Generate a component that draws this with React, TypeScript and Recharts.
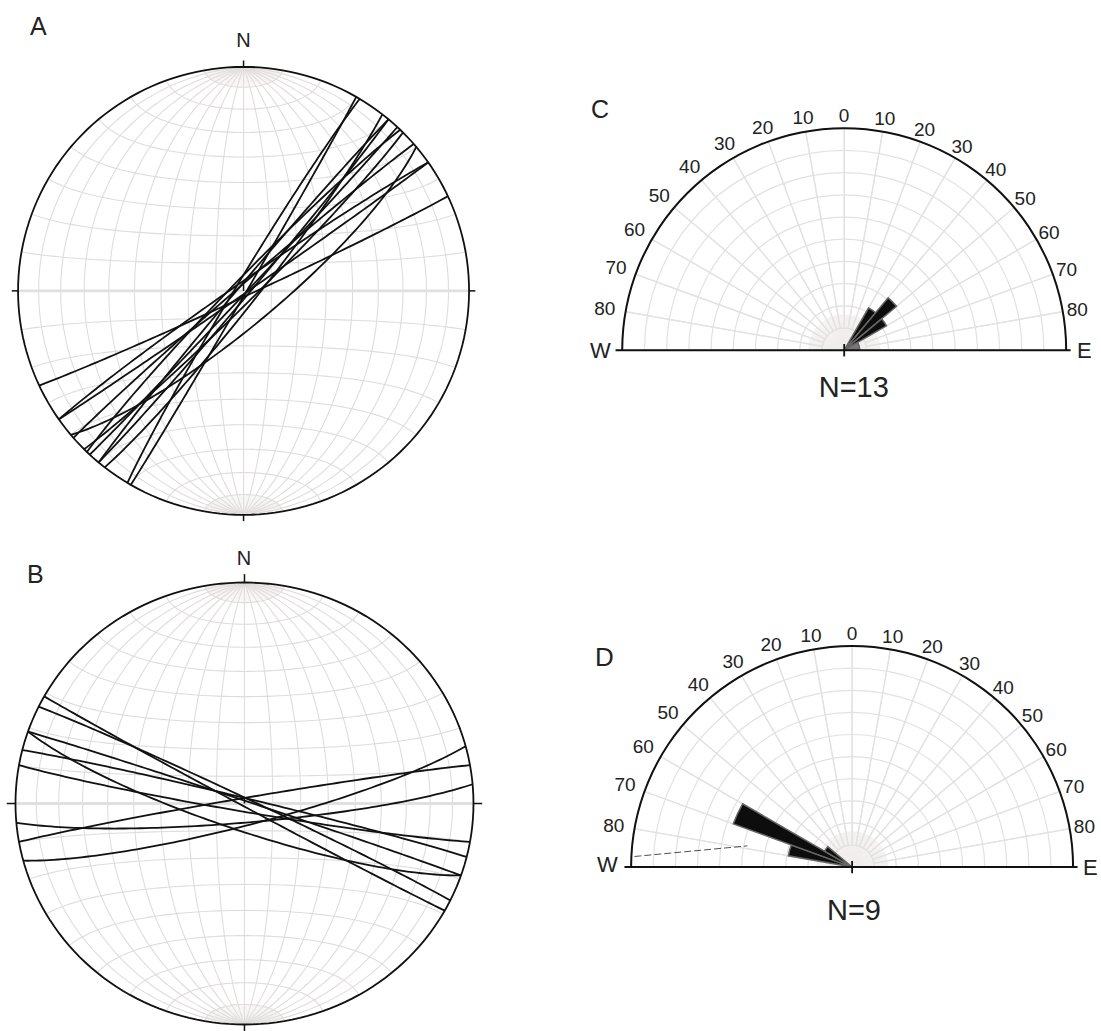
import React from 'react';
import { ScatterChart, Scatter, XAxis, YAxis, PieChart, Pie } from 'recharts';

const FONT = "'Liberation Sans', Arial, Helvetica, sans-serif";

// ---------------- data ----------------
// Net A: planes (strike, right-hand rule; dip)
const netAStrike = [30, 211, 40, 220, 43, 224, 45, 50, 229, 55, 235, 65, 38];
const netADip = [89, 87, 88, 88, 89, 86, 86, 78, 88, 89, 87, 88, 85];
// Net B: planes
const netBStrike = [119, 296, 109, 289, 284, 100, 75, 260, 85];
const netBDip = [89, 88, 80, 89, 88, 87, 82, 88, 83];

// Rose C (azimuth bins, petal length in grid rings)
const roseCStart = [30, 40, 50, 60];
const roseCEnd = [40, 50, 60, 90];
const roseCLength = [2.2, 3.08, 2.2, 0.7];
const roseCShade = ['#0d0d0d', '#0d0d0d', '#0d0d0d', '#777777'];
// Rose D
const roseDStart = [280, 290, 300];
const roseDEnd = [290, 300, 310];
const roseDLength = [2.93, 5.72, 1.44];
const roseDShade = ['#0d0d0d', '#0d0d0d', '#0d0d0d'];
// stray dashed trace in D (normalised rose units)
const roseDTraceX = [-0.985, -0.474];
const roseDTraceY = [0.048, 0.096];

const roseTickAngles = [0, 10, 20, 30, 40, 50, 60, 70, 80];
const roseCount = { C: 'N=13', D: 'N=9' };

// ---------------- geometry helpers ----------------
const D2R = Math.PI / 180;
type P = { x: number; y: number };

function proj(v: number[]): P {
  const z = Math.min(0, v[2]);
  const k = 1 / Math.sqrt(1 - z);
  return { x: v[0] * k, y: v[1] * k };
}

function arcPts(a: number[], b: number[], t0: number, t1: number, step: number): P[] {
  const out: P[] = [];
  const n = Math.max(1, Math.round(Math.abs(t1 - t0) / step));
  for (let i = 0; i <= n; i++) {
    const t = (t0 + ((t1 - t0) * i) / n) * D2R;
    const c = Math.cos(t);
    const s = Math.sin(t);
    out.push(proj([a[0] * c + b[0] * s, a[1] * c + b[1] * s, a[2] * c + b[2] * s]));
  }
  return out;
}

function buildGrid() {
  const lines: P[][] = [];
  for (let d = 10; d <= 170; d += 10) {
    lines.push(arcPts([0, 1, 0], [Math.cos(d * D2R), 0, -Math.sin(d * D2R)], 0, 180, 3));
  }
  for (let a = 10; a <= 170; a += 10) {
    if (a === 90) continue;
    const pts: P[] = [];
    for (let t = 0; t <= 180; t += 3) {
      const sa = Math.sin(a * D2R);
      pts.push(proj([sa * Math.cos(t * D2R), Math.cos(a * D2R), -sa * Math.sin(t * D2R)]));
    }
    lines.push(pts);
  }
  const fans: P[][] = [];
  for (let d = 2; d <= 178; d += 2) {
    if (d % 10 === 0) continue;
    const b = [Math.cos(d * D2R), 0, -Math.sin(d * D2R)];
    fans.push(arcPts([0, 1, 0], b, 0, 10, 5));
    fans.push(arcPts([0, 1, 0], b, 170, 180, 5));
  }
  const primitive: P[] = [];
  for (let t = 0; t <= 360; t += 2) primitive.push({ x: Math.sin(t * D2R), y: Math.cos(t * D2R) });
  return { lines, fans, primitive };
}

function greatCircle(strike: number, dip: number): P[] {
  const s = strike * D2R;
  const dd = (strike + 90) * D2R;
  const d = dip * D2R;
  const S = [Math.sin(s), Math.cos(s), 0];
  const Dv = [Math.sin(dd) * Math.cos(d), Math.cos(dd) * Math.cos(d), -Math.sin(d)];
  return arcPts(S, Dv, 0, 180, 2);
}

const GRID = buildGrid();
const noShape = () => <g />;

// ---------------- stereonet ----------------
function StereoNet(props: { cx: number; cy: number; rx: number; ry: number; strikes: number[]; dips: number[]; tick: number }) {
  const { cx, cy, rx, ry, strikes, dips, tick } = props;
  const S = 1.12;
  const W = 2 * S * rx;
  const H = 2 * S * ry;
  const circles = strikes.map((s, i) => greatCircle(s, dips[i]));
  const tickLines: P[][] = [
    [{ x: 0, y: 1 }, { x: 0, y: 1 + tick }],
    [{ x: 0, y: -1 }, { x: 0, y: -1 - tick }],
    [{ x: 1, y: 0 }, { x: 1 + tick, y: 0 }],
    [{ x: -1, y: 0 }, { x: -1 - tick, y: 0 }],
    [{ x: 0, y: 0 }, { x: 0, y: 0.03 }],
  ];
  return (
    <div style={{ position: 'absolute', left: cx - W / 2, top: cy - H / 2 }}>
      <ScatterChart width={W} height={H} margin={{ top: 0, right: 0, bottom: 0, left: 0 }}>
        <XAxis type="number" dataKey="x" domain={[-S, S]} hide allowDataOverflow />
        <YAxis type="number" dataKey="y" domain={[-S, S]} hide allowDataOverflow />
        {GRID.fans.map((g, i) => (
          <Scatter key={'f' + i} data={g} line={{ stroke: '#f1eded', strokeWidth: 0.6 }} lineType="joint" shape={noShape} isAnimationActive={false} />
        ))}
        {GRID.lines.map((g, i) => (
          <Scatter key={'g' + i} data={g} line={{ stroke: '#e0dcdc', strokeWidth: 1.1 }} lineType="joint" shape={noShape} isAnimationActive={false} />
        ))}
        <Scatter data={[{ x: -1, y: 0 }, { x: 1, y: 0 }]} line={{ stroke: '#e2dfdf', strokeWidth: 3 }} lineType="joint" shape={noShape} isAnimationActive={false} />
        {circles.map((g, i) => (
          <Scatter key={'c' + i} data={g} line={{ stroke: '#111', strokeWidth: 1.8 }} lineType="joint" shape={noShape} isAnimationActive={false} />
        ))}
        <Scatter data={GRID.primitive} line={{ stroke: '#111', strokeWidth: 1.8 }} lineType="joint" shape={noShape} isAnimationActive={false} />
        {tickLines.map((g, i) => (
          <Scatter key={'t' + i} data={g} line={{ stroke: '#111', strokeWidth: 1.5 }} lineType="joint" shape={noShape} isAnimationActive={false} />
        ))}
      </ScatterChart>
    </div>
  );
}

// ---------------- rose ----------------
function Rose(props: { cx: number; cy: number; R: number; start: number[]; end: number[]; len: number[]; shade: string[]; traceX?: number[]; traceY?: number[] }) {
  const { cx, cy, R, start, end, len, shade, traceX, traceY } = props;
  const S = 1.1 * R;
  const size = 2 * S;
  const ring = R / 10;
  const rings = [1, 2, 3, 4, 5, 6, 7, 8, 9];
  const spokes = Array.from({ length: 18 }, () => ({ v: 1 }));
  const fan = Array.from({ length: 90 }, () => ({ v: 1 }));
  const trace = traceX && traceY ? traceX.map((x, i) => ({ x, y: traceY[i] })) : null;
  return (
    <>
      <div style={{ position: 'absolute', left: cx - S, top: cy - S }}>
        <PieChart width={size} height={size} margin={{ top: 0, right: 0, bottom: 0, left: 0 }}>
          <Pie data={fan} dataKey="v" cx={S} cy={S} innerRadius={0} outerRadius={ring * 1.6} startAngle={180} endAngle={0} fill="none" stroke="#f2ecec" strokeWidth={0.6} isAnimationActive={false} />
          {rings.map((k) => (
            <Pie key={'r' + k} data={[{ v: 1 }]} dataKey="v" cx={S} cy={S} innerRadius={0} outerRadius={k * ring} startAngle={180} endAngle={0} fill="none" stroke="#e3e1e1" strokeWidth={1.2} isAnimationActive={false} />
          ))}
          <Pie data={spokes} dataKey="v" cx={S} cy={S} innerRadius={ring} outerRadius={R} startAngle={180} endAngle={0} fill="none" stroke="#e3e1e1" strokeWidth={1.2} isAnimationActive={false} />
          <Pie data={[{ v: 1 }]} dataKey="v" cx={S} cy={S} innerRadius={R - 1} outerRadius={R + 1} startAngle={180} endAngle={0} fill="#111" stroke="none" isAnimationActive={false} />
          {start.map((a, i) => (
            <Pie key={'p' + i} data={[{ v: 1 }]} dataKey="v" cx={S} cy={S} innerRadius={0} outerRadius={len[i] * ring} startAngle={90 - a} endAngle={90 - end[i]} fill={shade[i]} stroke="#666" strokeWidth={1.5} isAnimationActive={false} />
          ))}
        </PieChart>
      </div>
      <div style={{ position: 'absolute', left: cx - S, top: cy - S }}>
        <ScatterChart width={size} height={size} margin={{ top: 0, right: 0, bottom: 0, left: 0 }}>
          <XAxis type="number" dataKey="x" domain={[-1.1, 1.1]} hide allowDataOverflow />
          <YAxis type="number" dataKey="y" domain={[-1.1, 1.1]} hide allowDataOverflow />
          <Scatter data={[{ x: -1.03, y: 0 }, { x: 1.02, y: 0 }]} line={{ stroke: '#111', strokeWidth: 2 }} lineType="joint" shape={noShape} isAnimationActive={false} />
          <Scatter data={[{ x: 0, y: -0.028 }, { x: 0, y: 0.028 }]} line={{ stroke: '#111', strokeWidth: 1.8 }} lineType="joint" shape={noShape} isAnimationActive={false} />
          {trace && (
            <Scatter data={trace} line={{ stroke: '#222', strokeWidth: 0.8, strokeDasharray: '7 3' }} lineType="joint" shape={noShape} isAnimationActive={false} />
          )}
        </ScatterChart>
      </div>
    </>
  );
}

function RoseLabels(props: { cx: number; cy: number; R: number }) {
  const { cx, cy, R } = props;
  const items: { x: number; y: number; t: string }[] = [];
  roseTickAngles.forEach((a) => {
    const sides = a === 0 ? [1] : [-1, 1];
    sides.forEach((sg) => {
      const th = sg * a * D2R;
      const extra = sg < 0 ? 8 : 2;
      const d = R + 13 + extra * Math.abs(Math.sin(th));
      items.push({ x: cx + d * Math.sin(th), y: cy - d * Math.cos(th), t: String(a) });
    });
  });
  return (
    <>
      {items.map((it, i) => (
        <text key={i} x={it.x} y={it.y} textAnchor="middle" dominantBaseline="central" fontSize={19} fill="#222" fontFamily={FONT}>
          {it.t}
        </text>
      ))}
    </>
  );
}

export default function App() {
  const C = { cx: 844, cy: 350.5, R: 222 };
  const Dd = { cx: 852, cy: 867.3, R: 221 };
  return (
    <div style={{ position: 'absolute', left: 0, top: 0, width: 1101, height: 1031, background: '#fff', overflow: 'hidden', fontFamily: FONT }}>
      <StereoNet cx={243.8} cy={290.5} rx={225.5} ry={224} strikes={netAStrike} dips={netADip} tick={0.028} />
      <StereoNet cx={244.2} cy={804} rx={229} ry={221} strikes={netBStrike} dips={netBDip} tick={0.038} />
      <Rose cx={C.cx} cy={C.cy} R={C.R} start={roseCStart} end={roseCEnd} len={roseCLength} shade={roseCShade} />
      <Rose cx={Dd.cx} cy={Dd.cy} R={Dd.R} start={roseDStart} end={roseDEnd} len={roseDLength} shade={roseDShade} traceX={roseDTraceX} traceY={roseDTraceY} />
      <svg width={1101} height={1031} style={{ position: 'absolute', left: 0, top: 0, pointerEvents: 'none' }}>
        <text x={30} y={35} fontSize={25} fill="#222" fontFamily={FONT}>A</text>
        <text x={243.5} y={47} fontSize={20} textAnchor="middle" fill="#222" fontFamily={FONT}>N</text>
        <text x={27} y={583} fontSize={25} fill="#222" fontFamily={FONT}>B</text>
        <text x={244} y={565} fontSize={20} textAnchor="middle" fill="#222" fontFamily={FONT}>N</text>
        <text x={591} y={118} fontSize={25} fill="#222" fontFamily={FONT}>C</text>
        <text x={595} y={666} fontSize={26} fill="#222" fontFamily={FONT}>D</text>
        <text x={590} y={358} fontSize={22} fill="#222" fontFamily={FONT}>W</text>
        <text x={1077} y={358} fontSize={22} fill="#222" fontFamily={FONT}>E</text>
        <text x={597} y={872} fontSize={22} fill="#222" fontFamily={FONT}>W</text>
        <text x={1083} y={875} fontSize={22} fill="#222" fontFamily={FONT}>E</text>
        <text x={853.8} y={396.7} fontSize={29} textAnchor="middle" fill="#222" fontFamily={FONT}>{roseCount.C}</text>
        <text x={854} y={920} fontSize={29} textAnchor="middle" fill="#222" fontFamily={FONT}>{roseCount.D}</text>
        <RoseLabels cx={C.cx} cy={C.cy} R={C.R} />
        <RoseLabels cx={Dd.cx} cy={Dd.cy} R={Dd.R} />
      </svg>
    </div>
  );
}
